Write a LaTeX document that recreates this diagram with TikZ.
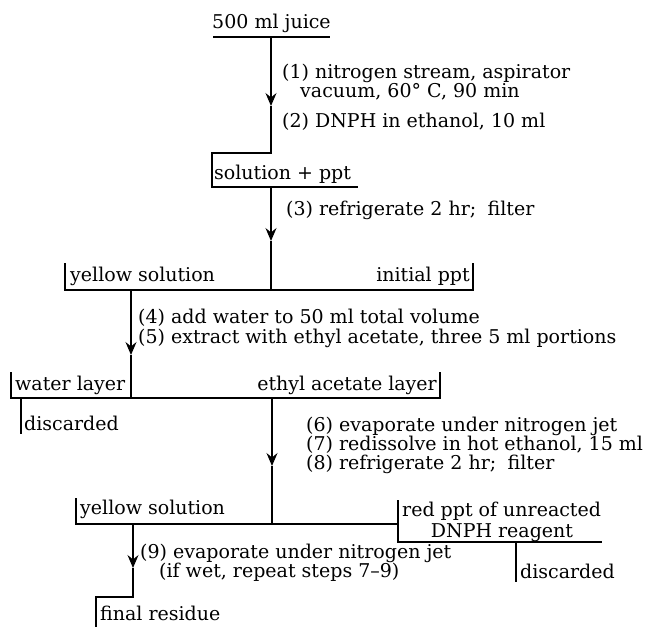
\documentclass[tikz,border=0pt]{standalone}
\usepackage{fontspec}
\setmainfont{DejaVu Serif}
\usetikzlibrary{arrows.meta}

\tikzset{
	lbl/.style={inner sep=0pt, anchor=base west, font=\fontsize{19}{19}\selectfont},
	flow/.style={line width=1.1pt},
	tip/.style={flow, -{Stealth[length=13pt,width=11pt,inset=4.5pt]}},
}

\begin{document}
\begin{tikzpicture}[x=1pt,y=-1pt]
		\useasboundingbox (0,0) rectangle (648,627);
		\node[lbl, anchor=base] (juice) at (271.5,28) {500 ml juice};
		\coordinate (s0) at (271,37);
		\coordinate (t1) at (271,106);
		\coordinate (k1) at (271,153);
		\draw[flow] (213,37) -- (330,37);
		\draw[tip] (s0) -- (t1);
		\draw[flow] (t1) -- (k1) -- (212,153) -- (212,187) -- (358,187);
		\node[lbl] (step1) at (282,78.5) {(1) nitrogen stream, aspirator};
		\node[lbl] (step1b) at (300,97.5) {vacuum, 60\textdegree\ C, 90 min};
		\node[lbl] (step2) at (282,127) {(2) DNPH in ethanol, 10 ml};
		\node[lbl] (sol) at (214,179) {solution + ppt};

		\coordinate (s1) at (271,187);
		\coordinate (t2) at (271,241);
		\coordinate (k2) at (271,290);
		\draw[tip] (s1) -- (t2);
		\draw[flow] (t2) -- (k2);
		\node[lbl] (step3) at (286,215) {(3) refrigerate 2 hr;\hspace{0.6em}filter};
		\draw[flow] (65,263) -- (65,290) -- (473,290) -- (473,263);
		\node[lbl] (yellowa) at (70,281) {yellow solution};
		\node[lbl, anchor=base east] (initppt) at (470,281) {initial ppt};

		\coordinate (s2) at (131,290);
		\coordinate (t3) at (131,355);
		\coordinate (k3) at (131,398);
		\draw[tip] (s2) -- (t3);
		\draw[flow] (t3) -- (k3);
		\node[lbl] (step4) at (138,323) {(4) add water to 50 ml total volume};
		\node[lbl] (step5) at (138,343) {(5) extract with ethyl acetate, three 5 ml portions};
		\draw[flow] (11,372) -- (11,398) -- (440,398) -- (440,372);
		\node[lbl] (water) at (15,390) {water layer};
		\node[lbl, anchor=base east] (ethyl) at (437,390) {ethyl acetate layer};
		\draw[flow] (21,398) -- (21,434);
		\node[lbl] (disca) at (24,430) {discarded};

		\coordinate (s3) at (272,398);
		\coordinate (t4) at (272,466);
		\coordinate (k4) at (272,524);
		\draw[tip] (s3) -- (t4);
		\draw[flow] (t4) -- (k4);
		\node[lbl] (step6) at (306,431) {(6) evaporate under nitrogen jet};
		\node[lbl] (step7) at (306,450) {(7) redissolve in hot ethanol, 15 ml};
		\node[lbl] (step8) at (306,469) {(8) refrigerate 2 hr;\hspace{0.6em}filter};
		\draw[flow] (76,498) -- (76,524) -- (398,524);
		\draw[flow] (398,500) -- (398,542) -- (602,542);
		\node[lbl] (yellowb) at (80,514) {yellow solution};
		\node[lbl] (redppt) at (402,516) {red ppt of unreacted};
		\node[lbl, anchor=base] (dnph) at (502,537) {DNPH reagent};
		\draw[flow] (516,542) -- (516,582);
		\node[lbl] (discb) at (520,578) {discarded};

		\coordinate (s4) at (133,524);
		\coordinate (t5) at (133,568);
		\coordinate (k5) at (133,597);
		\draw[tip] (s4) -- (t5);
		\draw[flow] (t5) -- (k5) -- (96,597) -- (96,627);
		\node[lbl] (step9) at (140,558) {(9) evaporate under nitrogen jet};
		\node[lbl] (step9b) at (159,577) {(if wet, repeat steps 7--9)};
		\node[lbl] (final) at (100,620) {final residue};
\end{tikzpicture}
\end{document}
